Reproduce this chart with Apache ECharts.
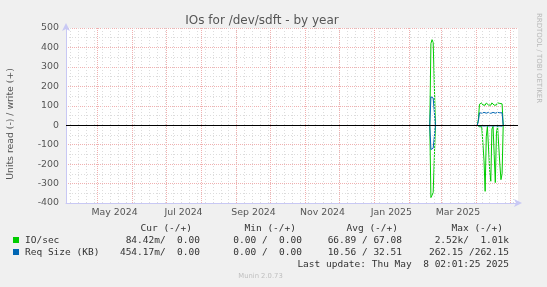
<!DOCTYPE html>
<html><head><meta charset="utf-8">
<script src="https://cdn.jsdelivr.net/npm/echarts@6/dist/echarts.min.js"></script>
<style>html,body{margin:0;padding:0;background:#f0f0f0;}#c{width:547px;height:287px;}</style>
</head><body><div id="c"></div>
<script>
// ---- data (read = negative, write = positive) ----
const dates = ['2025-02-19','2025-02-20','2025-02-21','2025-02-22','2025-02-23','2025-02-24','2025-03-15',
  '2025-04-02','2025-04-03','2025-04-04','2025-04-05','2025-04-06','2025-04-07','2025-04-08','2025-04-09',
  '2025-04-10','2025-04-11','2025-04-12','2025-04-13','2025-04-14','2025-04-15','2025-04-16','2025-04-17',
  '2025-04-18','2025-04-19','2025-04-20','2025-04-21','2025-04-22','2025-04-23','2025-04-24','2025-04-25'];
const ioWrite = [0,420,440,425,210,0,null,
  0,30,108,116,115,104,101,103,114,116,104,101,103,115,116,103,101,104,115,116,112,110,110,0];
const ioRead = [0,-372,-360,-346,-170,0,null,
  0,-5,-8,-6,-8,-10,-180,-340,-60,-6,-8,-230,-288,-20,-6,-150,-295,-40,-6,-8,-200,-280,-250,0];
const reqWrite = [0,146,145,140,70,0,null,
  0,20,64,66,62,60,66,68,62,60,66,67,61,60,66,68,62,61,66,67,64,64,64,0];
const reqRead = [0,-125,-122,-118,-60,0,null,
  0,-8,-4,-10,-3,-9,-4,-10,-3,-8,-4,-10,-3,-9,-4,-10,-3,-8,-4,-10,-4,-6,-5,0];

const xStart = '2024-04-03';
const xEndMs = Date.UTC(2025, 4, 8, 2, 1);
const monthStarts = ['2024-05-01','2024-06-01','2024-07-01','2024-08-01','2024-09-01','2024-10-01','2024-11-01',
  '2024-12-01','2025-01-01','2025-02-01','2025-03-01','2025-04-01','2025-05-01'];
const firstWeek = '2024-04-07';
const tickLabelDates = ['2024-05-16','2024-07-16','2024-09-16','2024-11-16','2025-01-16','2025-03-16'];
const tickLabels = ['May 2024','Jul 2024','Sep 2024','Nov 2024','Jan 2025','Mar 2025'];
const yTicks = [-400,-300,-200,-100,0,100,200,300,400,500];

const legendNames = ['IO/sec','Req Size (KB)'];
const legendColors = ['#00cc00','#0066b3'];
const legendCur = ['84.42m/  0.00','454.17m/  0.00'];
const legendMin = ['0.00 /  0.00','0.00 /  0.00'];
const legendAvg = ['66.89 / 67.08','10.56 / 32.51'];
const legendMax = ['2.52k/  1.01k','262.15 /262.15'];

// ---- helpers: x is measured in days since xStart ----
const DAY = 86400000;
const ms = d => { const p = d.split('-').map(Number); return Date.UTC(p[0], p[1]-1, p[2]); };
const t0 = ms(xStart);
const day = d => (ms(d) - t0) / DAY;
const xMax = (xEndMs - t0) / DAY;
const xs = dates.map(day);
const pair = arr => arr.map((v, i) => [xs[i], v]);
const weekDays = [];
for (let t = day(firstWeek); t < xMax; t += 7) weekDays.push(t);
const labelDays = tickLabelDates.map(day);

const MONO = '"DejaVu Sans Mono", monospace';
const SANS = '"DejaVu Sans", sans-serif';
function txt(x, y, text, opt) {
  opt = opt || {};
  const align = opt.align || 'left';
  return { type: 'text', x: x, y: y, rotation: opt.rotation || 0, silent: true, z: 10,
    style: { text: text, fill: opt.color || '#333', font: (opt.size || 9.5) + 'px ' + (opt.family || MONO),
      align: align, verticalAlign: 'middle', textAlign: align, textVerticalAlign: 'middle' } };
}

const graphics = [];
graphics.push(txt(262, 20.5, 'IOs for /dev/sdft - by year', {size: 12, family: SANS, color: '#555', align: 'center'}));
graphics.push(txt(10.5, 124, 'Units read (-) / write (+)', {size: 9.3, family: SANS, color: '#555', align: 'center', rotation: Math.PI/2}));
graphics.push(txt(539, 58, 'RRDTOOL / TOBI OETIKER', {size: 7, family: SANS, color: '#b8b8b8', align: 'center', rotation: -Math.PI/2}));
const hdr = [['Cur (-/+)', 192], ['Min (-/+)', 296], ['Avg (-/+)', 398], ['Max (-/+)', 503]];
hdr.forEach(h => graphics.push(txt(h[1], 228.3, h[0], {align: 'right'})));
legendNames.forEach((n, i) => {
  const y = 240.3 + i*12;
  graphics.push({ type: 'rect', shape: {x: 13, y: y - 3.3, width: 6, height: 6}, style: {fill: legendColors[i]}, silent: true });
  graphics.push(txt(25, y, n));
  graphics.push(txt(200, y, legendCur[i], {align: 'right'}));
  graphics.push(txt(302, y, legendMin[i], {align: 'right'}));
  graphics.push(txt(402, y, legendAvg[i], {align: 'right'}));
  graphics.push(txt(509, y, legendMax[i], {align: 'right'}));
});
graphics.push(txt(509, 264.6, 'Last update: Thu May  8 02:01:25 2025', {align: 'right'}));
graphics.push(txt(260.5, 276.5, 'Munin 2.0.73', {size: 6.8, family: SANS, color: '#c0c0c0', align: 'center'}));

const gridLines = [];
weekDays.forEach(t => gridLines.push({ xAxis: t, lineStyle: { color: '#dcdcdc', type: [1, 2], width: 1 } }));
monthStarts.map(day).forEach(t => gridLines.push({ xAxis: t, lineStyle: { color: '#f0b0b0', type: [1, 1], width: 1 } }));

const lineS = (name, data, color, z) => ({
  name: name, type: 'line', data: pair(data), showSymbol: false, symbol: 'none', connectNulls: false,
  lineStyle: { color: color, width: 1 }, itemStyle: { color: color }, z: z, animation: false, silent: true
});

const chart = echarts.init(document.getElementById('c'), null, { renderer: 'canvas' });
chart.setOption({
  backgroundColor: '#f0f0f0',
  animation: false,
  grid: { left: 66, right: 29, top: 28, bottom: 84, show: true, backgroundColor: '#ffffff', borderWidth: 0 },
  xAxis: {
    type: 'value', min: 0, max: xMax,
    axisLine: { show: true, onZero: false, lineStyle: { color: '#c8c8f4', width: 1 }, symbol: ['none', 'arrow'], symbolSize: [6, 8], symbolOffset: [0, 4] },
    axisTick: { show: false },
    splitLine: { show: false },
    axisLabel: { customValues: labelDays, formatter: v => { const i = labelDays.indexOf(v); return i >= 0 ? tickLabels[i] : ''; },
      color: '#555', fontSize: 9.4, fontFamily: SANS, margin: 5, hideOverlap: false }
  },
  yAxis: {
    type: 'value', min: yTicks[0], max: yTicks[yTicks.length-1], interval: 100,
    axisLine: { show: true, onZero: false, lineStyle: { color: '#c8c8f4', width: 1 }, symbol: ['none', 'arrow'], symbolSize: [6, 8], symbolOffset: [0, 5] },
    axisTick: { show: false },
    axisLabel: { color: '#555', fontSize: 9.4, fontFamily: SANS, margin: 7 },
    splitLine: { show: true, lineStyle: { color: '#f0b0b0', type: [1, 1], width: 1 } },
    minorTick: { show: false, splitNumber: 2 },
    minorSplitLine: { show: true, lineStyle: { color: '#dcdcdc', type: [1, 2], width: 1 } }
  },
  series: [
    { type: 'line', data: [], z: 1, silent: true, animation: false,
      markLine: { silent: true, symbol: ['none', 'none'], label: { show: false }, animation: false, data: gridLines } },
    lineS('IO/sec read', ioRead, legendColors[0], 3),
    lineS('IO/sec write', ioWrite, legendColors[0], 3),
    lineS('Req read', reqRead, legendColors[1], 4),
    lineS('Req write', reqWrite, legendColors[1], 4),
    { type: 'line', data: [], z: 6, silent: true, animation: false,
      markLine: { silent: true, symbol: ['none', 'none'], label: { show: false }, animation: false,
        data: [{ yAxis: 0, lineStyle: { color: '#000', type: 'solid', width: 1 } }] } }
  ],
  graphic: graphics
});
</script></body></html>
